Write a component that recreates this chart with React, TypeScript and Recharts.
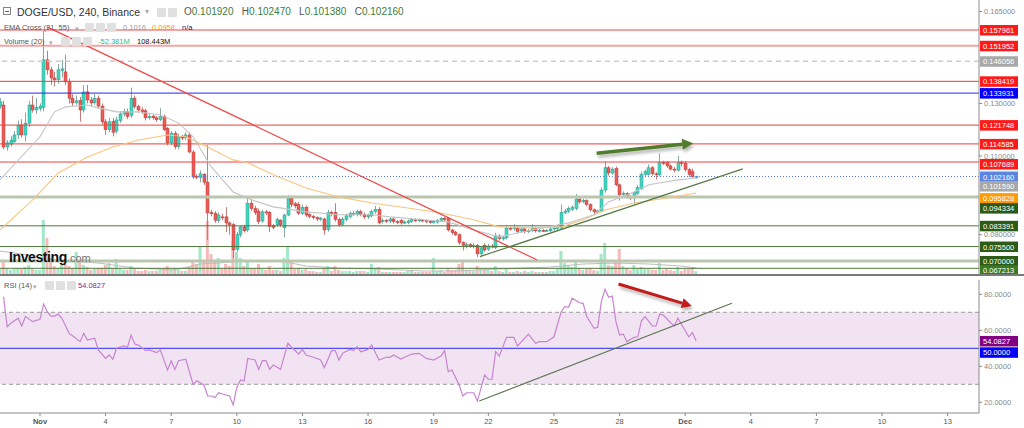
import React from "react";
import {
  ComposedChart,
  Bar,
  Line,
  XAxis,
  YAxis,
  ReferenceLine,
  ReferenceArea,
  Cell,
} from "recharts";

const FONT = "'Liberation Sans', Arial, Helvetica, sans-serif";

// 4h candles, index 0 = 1 Nov 00:00. prices in 1/10000 USD: [open, high, low, close]
const FIRST = -11;
const candles = [
  // 30-31 Oct
  [1290, 1320, 1280, 1306], [1294, 1310, 1125, 1134], [1134, 1160, 1120, 1150], [1145, 1175, 1135, 1160], [1155, 1195, 1150, 1180],
  [1180, 1235, 1165, 1218], [1218, 1240, 1170, 1180], [1180, 1265, 1155, 1225], [1225, 1310, 1210, 1294], [1294, 1330, 1265, 1275], [1275, 1320, 1260, 1285],
  // 1 Nov
  [1280, 1300, 1270, 1290], [1285, 1580, 1270, 1466], [1466, 1500, 1410, 1428], [1428, 1440, 1370, 1397], [1397, 1420, 1365, 1390], [1390, 1450, 1375, 1428],
  [1425, 1465, 1400, 1432], [1420, 1485, 1370, 1382], [1382, 1395, 1300, 1320], [1320, 1335, 1290, 1302], [1302, 1330, 1295, 1310], [1312, 1325, 1230, 1275],
  [1275, 1370, 1265, 1344], [1344, 1370, 1300, 1313], [1313, 1325, 1290, 1302], [1302, 1335, 1295, 1320], [1320, 1330, 1280, 1290], [1290, 1300, 1220, 1230],
  // 4 Nov
  [1230, 1240, 1180, 1200], [1200, 1245, 1190, 1230], [1232, 1245, 1175, 1190], [1195, 1250, 1185, 1237], [1235, 1270, 1225, 1260], [1260, 1280, 1250, 1270],
  [1268, 1280, 1240, 1250], [1255, 1360, 1245, 1320], [1320, 1330, 1280, 1288], [1288, 1295, 1265, 1275], [1275, 1285, 1260, 1270], [1272, 1280, 1235, 1245],
  [1245, 1262, 1238, 1250], [1252, 1258, 1238, 1245], [1245, 1252, 1230, 1238], [1238, 1282, 1232, 1250], [1250, 1258, 1195, 1200], [1205, 1210, 1140, 1150],
  // 7 Nov
  [1150, 1195, 1140, 1185], [1185, 1195, 1125, 1135], [1135, 1185, 1125, 1175], [1172, 1180, 1160, 1170], [1170, 1190, 1160, 1180], [1180, 1190, 1110, 1115],
  [1115, 1122, 1012, 1020], [1022, 1030, 1010, 1020], [1018, 1045, 1000, 1032], [1030, 1035, 990, 1000], [1000, 1142, 780, 883], [885, 895, 870, 880],
  [882, 890, 845, 855], [855, 885, 845, 875], [868, 880, 855, 865], [868, 905, 810, 845], [845, 850, 800, 838], [838, 845, 710, 742],
  // 10 Nov
  [745, 810, 735, 800], [800, 835, 790, 830], [830, 838, 808, 815], [818, 940, 810, 920], [920, 935, 890, 900], [900, 910, 875, 885],
  [890, 900, 840, 850], [852, 895, 845, 887], [887, 895, 875, 883], [885, 890, 810, 832], [835, 840, 820, 828], [838, 865, 830, 858],
  [855, 860, 830, 838], [826, 880, 790, 875], [875, 950, 870, 940], [940, 950, 905, 915], [918, 925, 900, 910], [915, 925, 875, 882],
  // 13 Nov
  [882, 915, 875, 905], [905, 912, 868, 875], [877, 882, 862, 870], [870, 876, 858, 865], [865, 870, 852, 860], [860, 868, 852, 863],
  [860, 865, 800, 818], [820, 895, 812, 885], [885, 892, 870, 880], [885, 920, 850, 858], [858, 865, 830, 838], [840, 868, 832, 860],
  [858, 880, 850, 872], [870, 888, 862, 880], [880, 890, 872, 882], [877, 895, 870, 888], [888, 895, 870, 878], [878, 885, 860, 868],
  // 16 Nov
  [868, 880, 860, 875], [872, 895, 866, 888], [888, 910, 880, 897], [897, 905, 840, 845], [850, 862, 842, 855], [855, 860, 845, 852],
  [852, 866, 845, 860], [860, 866, 842, 850], [850, 856, 840, 848], [855, 860, 838, 845], [846, 855, 840, 848], [846, 858, 840, 852],
  [850, 864, 844, 858], [857, 862, 848, 855], [855, 863, 848, 857], [856, 860, 848, 854], [854, 858, 843, 850], [850, 856, 842, 848],
  // 19 Nov
  [848, 855, 842, 850], [848, 860, 842, 855], [855, 868, 850, 862], [862, 868, 852, 860], [862, 866, 812, 818], [818, 822, 800, 808],
  [810, 815, 795, 800], [800, 805, 762, 770], [770, 775, 740, 760], [760, 770, 748, 762], [762, 768, 750, 758], [758, 768, 748, 760],
  [760, 765, 715, 727], [727, 756, 720, 750], [760, 768, 735, 742],
  // 22 Nov
  [745, 765, 738, 757], [757, 765, 748, 755], [750, 808, 745, 795], [795, 802, 778, 785], [785, 795, 778, 788], [788, 835, 782, 825],
  [825, 832, 815, 823], [823, 840, 815, 827], [827, 832, 806, 812], [814, 828, 808, 822], [822, 828, 805, 812], [812, 822, 806, 815],
  [815, 840, 810, 825], [825, 830, 808, 815], [815, 823, 808, 817], [817, 822, 810, 815], [815, 822, 810, 816], [815, 828, 810, 822],
  // 25 Nov
  [822, 832, 815, 826], [826, 834, 818, 828], [825, 915, 820, 885], [885, 898, 878, 890], [890, 908, 882, 900], [897, 912, 890, 905],
  [900, 955, 893, 936], [936, 942, 918, 925], [928, 938, 920, 930], [930, 935, 908, 915], [915, 920, 888, 895], [895, 900, 876, 887],
  [888, 896, 882, 890], [890, 980, 885, 970], [970, 1080, 960, 1055], [1055, 1062, 1025, 1035], [1035, 1058, 1028, 1050], [1052, 1060, 985, 990],
  // 28 Nov
  [990, 995, 930, 952], [955, 965, 945, 958], [958, 962, 938, 945], [945, 950, 932, 940], [940, 966, 915, 960], [958, 990, 952, 980],
  [975, 1040, 970, 1030], [1030, 1048, 1022, 1040], [1030, 1068, 1025, 1055], [1055, 1062, 1025, 1032], [1032, 1038, 1010, 1028], [1028, 1110, 1022, 1075],
  [1075, 1082, 1065, 1072], [1075, 1080, 1055, 1062], [1062, 1068, 1045, 1050], [1050, 1058, 1038, 1046], [1046, 1100, 1040, 1075], [1075, 1082, 1060, 1073],
  // 1 Dec
  [1073, 1080, 1040, 1048], [1048, 1055, 1020, 1030], [1040, 1052, 1015, 1022], [1019.2, 1024.7, 1013.8, 1021.6],
];

// volume per candle, millions
const volumes = [
  90, 216, 108, 72, 90, 108, 90, 126, 162, 90,
  72, 72, 972, 648, 288, 144, 108, 162, 180, 144,
  108, 396, 234, 162, 126, 72, 90, 108, 108, 162,
  198, 108, 270, 108, 72, 72, 144, 90, 54, 54,
  72, 54, 54, 54, 72, 90, 144, 90, 108, 72,
  54, 54, 126, 234, 180, 504, 216, 954, 360, 216,
  288, 108, 180, 144, 594, 396, 288, 144, 234, 108,
  90, 180, 90, 72, 144, 72, 72, 54, 288, 486,
  234, 90, 108, 72, 90, 54, 54, 36, 36, 108,
  144, 54, 144, 72, 54, 54, 54, 36, 54, 54,
  54, 36, 180, 108, 126, 36, 36, 36, 36, 36,
  36, 36, 54, 54, 36, 36, 36, 36, 36, 288,
  54, 72, 36, 108, 72, 72, 180, 216, 72, 54,
  54, 144, 90, 72, 72, 54, 144, 54, 36, 90,
  36, 36, 54, 36, 54, 36, 54, 36, 36, 36,
  36, 54, 54, 108, 414, 198, 162, 126, 234, 108,
  72, 90, 108, 72, 54, 360, 558, 162, 144, 216,
  450, 144, 108, 72, 162, 90, 126, 90, 90, 72,
  72, 198, 72, 90, 72, 54, 126, 54, 90, 90,
  108, 52,
];

// [candle index, value]
const volumeMa = [
  [-11, 414], [-5, 360], [0, 288], [7, 234], [16, 198], [26, 108], [37, 72], [44, 180], [49, 198], [55, 234],
  [60, 234], [66, 234], [73, 144], [82, 108], [93, 90], [105, 54], [114, 54], [126, 90], [140, 126], [149, 180],
  [158, 198], [167, 180], [176, 144], [180, 108],
];
const ema21 = [
  [-11, 1009], [0, 1173], [4, 1268], [7, 1287], [13, 1294], [16, 1283], [21, 1268], [27, 1268], [33, 1256], [38, 1226],
  [42, 1173], [47, 1058], [53, 963], [58, 933], [64, 906], [73, 887], [82, 876], [91, 876], [96, 868], [105, 857],
  [112, 849], [119, 818], [126, 792], [135, 818], [145, 845], [152, 876], [156, 925], [163, 963], [167, 990], [175, 1009], [180, 1016],
];
const ema55 = [
  [-11, 818], [-2, 933], [5, 1035], [13, 1096], [20, 1134], [27, 1161], [35, 1180], [40, 1173], [46, 1134], [53, 1085],
  [57, 1074], [64, 1028], [73, 978], [82, 944], [91, 921], [101, 902], [110, 883], [119, 857], [126, 830], [135, 826],
  [143, 830], [149, 857], [155, 894], [163, 921], [172, 940], [180, 959],
];
const rsi = [
  [-10, 78.7], [-9, 62], [-8, 63.9], [-6, 66.7], [-5, 62.4], [-4, 67.6], [-2, 64.8], [0, 66.1], [1, 74.6], [2, 70.3],
  [3, 67.9], [4, 67.9], [5, 69], [6, 66.7], [8, 58.3], [9, 56.8], [11, 53.7], [12, 58.3], [13, 54.6], [15, 55.6],
  [16, 49.1], [18, 44.4], [19, 46.3], [20, 43.9], [21, 50], [23, 51.3], [24, 50.6], [25, 57.4], [26, 52.4], [27, 51.8],
  [29, 48.7], [30, 49.1], [32, 47.6], [33, 49.1], [35, 37.9], [36, 43.1], [37, 38.3], [38, 43.1], [40, 43.9], [42, 30],
  [43, 32], [45, 29.6], [46, 23.5], [47, 23.5], [48, 22.6], [49, 25.3], [50, 24.6], [52, 23.5], [53, 18.5], [54, 28.3],
  [55, 32.4], [56, 31.8], [57, 44.4], [59, 43.5], [60, 38.3], [61, 43.1], [62, 43.1], [63, 38.3], [64, 40.7], [66, 38.3],
  [68, 52.8], [69, 50.6], [71, 46.8], [72, 49.4], [73, 46.3], [75, 45], [77, 43.5], [78, 39.2], [80, 48.7], [81, 48.7],
  [82, 43.5], [83, 47.2], [85, 49.4], [86, 48.7], [87, 50.9], [88, 48.1], [90, 49.4], [91, 51.8], [93, 43.5], [95, 45],
  [96, 45], [97, 46.3], [99, 44], [100, 45], [102, 46.8], [104, 47.2], [106, 44.4], [108, 43.5], [110, 45.7], [111, 48.7],
  [112, 37], [113, 37.9], [115, 29.6], [116, 23.5], [117, 25.3], [119, 25.3], [120, 20.7], [122, 35.2], [123, 32.8], [124, 32.8],
  [125, 48.1], [126, 45.7], [128, 56.1], [130, 56.1], [131, 51.3], [134, 57.9], [136, 52.8], [137, 53.7], [139, 53.7], [141, 56.4],
  [143, 70.3], [144, 73.1], [145, 72.8], [146, 77.8], [148, 75.3], [149, 75], [150, 67.6], [152, 61.1], [153, 61.7], [154, 75.9],
  [155, 82.8], [156, 78.3], [157, 79], [158, 64.8], [159, 57.4], [160, 57.9], [161, 53.7], [163, 56.1], [164, 56.4], [165, 65.3],
  [166, 67.6], [168, 62.4], [169, 62.4], [170, 69], [171, 68.5], [173, 64.2], [174, 62.4], [175, 66.7], [178, 56.4], [179, 58.7],
  [180, 54.0827],
];

const dayTicks = [0, 18, 36, 54, 72, 90, 108, 123, 141, 159, 177, 195, 213, 231, 249];
const dayLabels = ["Nov", "4", "7", "10", "13", "16", "19", "22", "25", "28", "Dec", "4", "7", "10", "13"];
const priceTicks = [0.08, 0.11, 0.13, 0.165];
const rsiTicks = [20, 40, 60, 80];

// horizontal levels drawn on the price panel
const levels = [
  0.157961, 0.151952, 0.146056, 0.138419, 0.133931, 0.121748, 0.114585, 0.107689,
  0.10216, 0.10159, 0.095828, 0.094334, 0.083391, 0.0755, 0.07, 0.067213,
];
const levelLook = [
  { line: "#f5a3a3", w: 2, tag: "#ff1a1a" },
  { line: "#f5a3a3", w: 2, tag: "#ff1a1a" },
  { line: "#cccccc", w: 1.5, dash: "5 4", tag: "#a8a8a8" },
  { line: "#f03c3c", w: 1, tag: "#ff1a1a" },
  { line: "#2228f0", w: 1, tag: "#0000ff" },
  { line: "#f03c3c", w: 1, tag: "#ff1a1a" },
  { line: "#f03c3c", w: 1, tag: "#ff1a1a" },
  { line: "#f03c3c", w: 1, tag: "#ff1a1a", dy: 2 },
  { line: "#5577e0", w: 1, dash: "1 2", tag: "#5b85df" },
  { line: "none", w: 0, tag: "#a8a8a8", dy: 8 },
  { line: "none", w: 0, tag: "#ff9a00", dy: 5 },
  { line: "#bac6ae", w: 3, tag: "#2c5a17", dy: 11 },
  { line: "#51773d", w: 1, tag: "#2c5a17" },
  { line: "#51773d", w: 1, tag: "#2c5a17" },
  { line: "#bac6ae", w: 3, tag: "#2c5a17" },
  { line: "#51773d", w: 1, tag: "#3c7a22", dy: 2 },
];

// drawn lines: [candle index, value]
const redTrend = [[1.9, 0.15914], [136.4, 0.0704]];
const greenTrend = [[120.7, 0.07167], [192.8, 0.10506]];
const priceArrow = [[152.7, 0.11104], [179.2, 0.11485]];
const rsiTrend = [[120.5, 20.7], [189.8, 75]];
const rsiArrow = [[158.7, 85.7], [178.8, 73.5]];
const lastRsi = 54.0827;

const W = 1024;
const AXIS_W = 45;
const PLOT_W = W - AXIS_W;
const X_MIN = -10.97;
const X_MAX = 257.6;
const P_MIN = 0.065044;
const P_MAX = 0.169385;
const VOL_MAX = 4932;
const R_MIN = 14.06;
const R_MAX = 87.94;

const rows = candles.map((k, n) => ({
  i: FIRST + n,
  o: k[0] / 1e4,
  h: k[1] / 1e4,
  l: k[2] / 1e4,
  c: k[3] / 1e4,
  v: volumes[n],
}));
const toPts = (a: number[][], div = 1) => a.map(([i, v]) => ({ i, v: v / div }));
const seg = (a: number[][]) => [{ x: a[0][0], y: a[0][1] }, { x: a[1][0], y: a[1][1] }];

function Candle(p: any) {
  const { x, y, width, height, payload } = p;
  if (!payload || height == null) return null;
  const { o, h, l, c } = payload;
  const top = Math.min(y, y + height);
  const span = Math.abs(height);
  const at = (v: number) => top + (h === l ? 0 : ((h - v) / (h - l)) * span);
  const up = c >= o;
  const cx = Math.round(x + width / 2) + 0.5;
  const b1 = at(Math.max(o, c));
  const b2 = at(Math.min(o, c));
  return (
    <g>
      <line x1={cx} x2={cx} y1={top} y2={top + span} stroke={up ? "#86aaa2" : "#c47d7a"} strokeWidth={1} />
      <rect
        x={cx - 1.5}
        y={b1}
        width={3}
        height={Math.max(1, b2 - b1)}
        fill={up ? "#3fd6c0" : "#ee5a55"}
        stroke={up ? "#2a9c8c" : "#b8403c"}
        strokeWidth={0.5}
      />
    </g>
  );
}

function tag(vb: any, text: string, bg: string, dy = 0) {
  if (!vb) return null;
  const y = vb.y + dy;
  return (
    <g>
      <rect x={PLOT_W + 1} y={y - 5} width={38} height={10.5} fill={bg} />
      <text x={PLOT_W + 4} y={y + 3} fontSize={7.5} fill="#fff" fontFamily={FONT}>
        {text}
      </text>
    </g>
  );
}

const arrow = (color: string, w: number, head: number, id: string) => (p: any) => {
  const { x1, y1, x2, y2 } = p;
  const a = Math.atan2(y2 - y1, x2 - x1);
  const bx = x2 - head * Math.cos(a);
  const by = y2 - head * Math.sin(a);
  const nx = -Math.sin(a) * head * 0.5;
  const ny = Math.cos(a) * head * 0.5;
  const pts = `${x2},${y2} ${bx + nx},${by + ny} ${bx - nx},${by - ny}`;
  return (
    <g>
      <defs>
        <filter id={id} x="-20%" y="-50%" width="140%" height="200%">
          <feGaussianBlur stdDeviation="1.5" />
        </filter>
      </defs>
      <g opacity={0.45} transform="translate(1.5,3)" filter={`url(#${id})`}>
        <line x1={x1} y1={y1} x2={bx} y2={by} stroke="#666" strokeWidth={w} />
        <polygon points={pts} fill="#666" />
      </g>
      <line x1={x1} y1={y1} x2={bx} y2={by} stroke={color} strokeWidth={w} />
      <polygon points={pts} fill={color} />
    </g>
  );
};

function DayTick(p: any) {
  const { x, y, payload } = p;
  const label = dayLabels[dayTicks.indexOf(payload.value)] ?? "";
  const month = label === "Nov" || label === "Dec";
  return (
    <text x={x} y={y + 6} textAnchor="middle" fontSize={7.5} fontWeight={month ? 700 : 400} fill="#555" fontFamily={FONT}>
      {label}
    </text>
  );
}

function T(props: { x: number; y: number; size?: number; color?: string; bold?: boolean; children: React.ReactNode }) {
  const { x, y, size = 7.5, color = "#555", bold, children } = props;
  return (
    <div
      style={{
        position: "absolute",
        left: x,
        top: y,
        transform: "translateY(-50%)",
        fontSize: size,
        lineHeight: 1,
        color,
        fontWeight: bold ? 700 : 400,
        whiteSpace: "nowrap",
      }}
    >
      {children}
    </div>
  );
}

function Icons({ x, y, n }: { x: number; y: number; n: number }) {
  return (
    <>
      {Array.from({ length: n }).map((_, k) => (
        <div
          key={k}
          style={{ position: "absolute", left: x + k * 11, top: y - 4.5, width: 9, height: 9, background: "#e0e0e0", borderRadius: 1 }}
        />
      ))}
    </>
  );
}

function VolumeChart() {
  return (
    <ComposedChart width={W} height={274} data={rows} margin={{ top: 0, right: AXIS_W, bottom: 0, left: 0 }}>
      <XAxis dataKey="i" type="number" domain={[X_MIN, X_MAX]} allowDataOverflow hide height={0} />
      <YAxis yAxisId="v" domain={[0, VOL_MAX]} allowDataOverflow hide width={0} />
      <Bar yAxisId="v" dataKey="v" barSize={3} isAnimationActive={false}>
        {rows.map((r) => (
          <Cell key={r.i} fill={r.c >= r.o ? "#a3e7c8" : "#f8b9b9"} />
        ))}
      </Bar>
      <Line
        yAxisId="v"
        data={toPts(volumeMa)}
        dataKey="v"
        stroke="#bdbdbd"
        strokeWidth={1.2}
        dot={false}
        activeDot={false}
        isAnimationActive={false}
      />
    </ComposedChart>
  );
}

function PriceChart() {
  return (
    <ComposedChart width={W} height={274} data={rows} margin={{ top: 0, right: 0, bottom: 0, left: 0 }}>
      <XAxis dataKey="i" type="number" domain={[X_MIN, X_MAX]} allowDataOverflow hide height={0} />
      <YAxis
        yAxisId="p"
        orientation="right"
        width={AXIS_W}
        domain={[P_MIN, P_MAX]}
        allowDataOverflow
        ticks={priceTicks}
        interval={0}
        tickFormatter={(v: number) => v.toFixed(6)}
        tick={{ fontSize: 7.5, fill: "#8a8a8a", fontFamily: FONT }}
        tickSize={3}
        tickMargin={2}
        axisLine={{ stroke: "#8a8a8a" }}
        tickLine={{ stroke: "#8a8a8a" }}
      />
      {levels.map((v, k) => {
        const s = levelLook[k];
        return (
          <ReferenceLine
            key={v}
            yAxisId="p"
            y={v}
            stroke={s.line}
            strokeWidth={s.w}
            strokeDasharray={s.dash}
            label={(lp: any) => tag(lp.viewBox, v.toFixed(6), s.tag, s.dy)}
          />
        );
      })}
      <Line yAxisId="p" data={toPts(ema55, 1e4)} dataKey="v" stroke="#fbc47e" strokeWidth={1.1} dot={false} activeDot={false} isAnimationActive={false} />
      <Line yAxisId="p" data={toPts(ema21, 1e4)} dataKey="v" stroke="#c4c4c4" strokeWidth={1.1} dot={false} activeDot={false} isAnimationActive={false} />
      <Bar yAxisId="p" dataKey={(d: any) => [d.l, d.h]} barSize={3} shape={Candle} isAnimationActive={false} />
      <ReferenceLine yAxisId="p" segment={seg(redTrend)} stroke="#f04848" strokeWidth={1.2} />
      <ReferenceLine yAxisId="p" segment={seg(greenTrend)} stroke="#587a45" strokeWidth={1.2} />
      <ReferenceLine yAxisId="p" segment={seg(priceArrow)} shape={arrow("#4f7d2c", 3.5, 11, "shadowG")} />
    </ComposedChart>
  );
}

function RsiChart() {
  return (
    <ComposedChart width={W} height={151} data={toPts(rsi)} margin={{ top: 3, right: 0, bottom: 0, left: 0 }}>
      <XAxis
        dataKey="i"
        type="number"
        domain={[X_MIN, X_MAX]}
        allowDataOverflow
        ticks={dayTicks}
        interval={0}
        height={15}
        tick={DayTick}
        tickSize={3}
        tickMargin={2}
        axisLine={{ stroke: "#8a8a8a" }}
        tickLine={{ stroke: "#8a8a8a" }}
      />
      <YAxis
        yAxisId="r"
        orientation="right"
        width={AXIS_W}
        domain={[R_MIN, R_MAX]}
        allowDataOverflow
        ticks={rsiTicks}
        interval={0}
        tickFormatter={(v: number) => v.toFixed(4)}
        tick={{ fontSize: 7.5, fill: "#8a8a8a", fontFamily: FONT }}
        tickSize={3}
        tickMargin={2}
        axisLine={{ stroke: "#8a8a8a" }}
        tickLine={{ stroke: "#8a8a8a" }}
      />
      <ReferenceArea yAxisId="r" y1={30} y2={70} fill="#f1e3f2" fillOpacity={1} stroke="none" />
      <ReferenceLine yAxisId="r" y={70} stroke="#9a9a9a" strokeDasharray="4 3" />
      <ReferenceLine yAxisId="r" y={30} stroke="#9a9a9a" strokeDasharray="4 3" />
      <ReferenceLine
        yAxisId="r"
        y={50}
        stroke="#2a2af0"
        strokeWidth={1}
        label={(lp: any) => tag(lp.viewBox, "50.0000", "#0000ff", 4)}
      />
      <Line yAxisId="r" dataKey="v" stroke="#c784d0" strokeWidth={1.2} dot={false} activeDot={false} isAnimationActive={false} />
      <ReferenceLine yAxisId="r" segment={seg(rsiTrend)} stroke="#5d7552" strokeWidth={1.1} />
      <ReferenceLine yAxisId="r" segment={seg(rsiArrow)} shape={arrow("#c41b1b", 3, 10, "shadowR")} />
      <ReferenceLine
        yAxisId="r"
        y={lastRsi}
        stroke="none"
        label={(lp: any) => tag(lp.viewBox, lastRsi.toFixed(4), "#800080")}
      />
    </ComposedChart>
  );
}

export default function App() {
  return (
    <div
      style={{
        position: "absolute",
        left: 0,
        top: 0,
        width: W,
        height: 428,
        background: "#fff",
        overflow: "hidden",
        fontFamily: FONT,
      }}
    >
      <div style={{ position: "absolute", left: 0, top: 0 }}>
        <VolumeChart />
      </div>
      <div style={{ position: "absolute", left: 0, top: 0 }}>
        <PriceChart />
      </div>
      <div style={{ position: "absolute", left: 0, top: 274, width: W, height: 2, background: "#7a7a7a" }} />
      <div style={{ position: "absolute", left: 0, top: 277 }}>
        <RsiChart />
      </div>

      {/* legends */}
      <div style={{ position: "absolute", left: 3, top: 7, width: 8, height: 8, border: "1px solid #888", boxSizing: "border-box" }}>
        <div style={{ position: "absolute", left: 1, top: 2.5, width: 4, height: 1, background: "#666" }} />
      </div>
      <T x={17} y={12} size={10.5} color="#333">DOGE/USD, 240, Binance</T>
      <T x={145} y={12} size={8} color="#aaa">▾</T>
      <Icons x={157} y={12} n={2} />
      <T x={184} y={12} size={10} color="#3b7d3b">
        <span style={{ color: "#555" }}>O</span>0.101920&nbsp;&nbsp;&nbsp;<span style={{ color: "#555" }}>H</span>0.102470&nbsp;&nbsp;&nbsp;
        <span style={{ color: "#555" }}>L</span>0.101380&nbsp;&nbsp;&nbsp;<span style={{ color: "#555" }}>C</span>0.102160
      </T>

      <T x={4} y={27.5}>EMA Cross (21, 55)</T>
      <T x={75} y={27.5} size={7} color="#aaa">▾</T>
      <Icons x={85} y={27.5} n={3} />
      <T x={123} y={27.5} color="#9a9a9a">0.1016</T>
      <T x={152} y={27.5} color="#ff9800">0.0958</T>
      <T x={182} y={27.5} color="#1a237e">n/a</T>

      <T x={4} y={41.5}>Volume (20)</T>
      <T x={49} y={41.5} size={7} color="#aaa">▾</T>
      <Icons x={61} y={41.5} n={3} />
      <T x={98} y={41.5} color="#1fbf7f">-52.381M</T>
      <T x={137} y={41.5} color="#111">108.443M</T>

      <T x={4} y={285.5}>RSI (14)</T>
      <T x={33} y={285.5} size={7} color="#aaa">▾</T>
      <Icons x={45} y={285.5} n={3} />
      <T x={78} y={285.5} color="#8a1f8a">54.0827</T>

      <div style={{ position: "absolute", left: 9, top: 249, whiteSpace: "nowrap", lineHeight: 1 }}>
        <span style={{ fontSize: 14, fontWeight: 700, color: "#111", letterSpacing: -0.4 }}>Investing</span>
        <span style={{ fontSize: 11, color: "#777" }}>.com</span>
      </div>
    </div>
  );
}
